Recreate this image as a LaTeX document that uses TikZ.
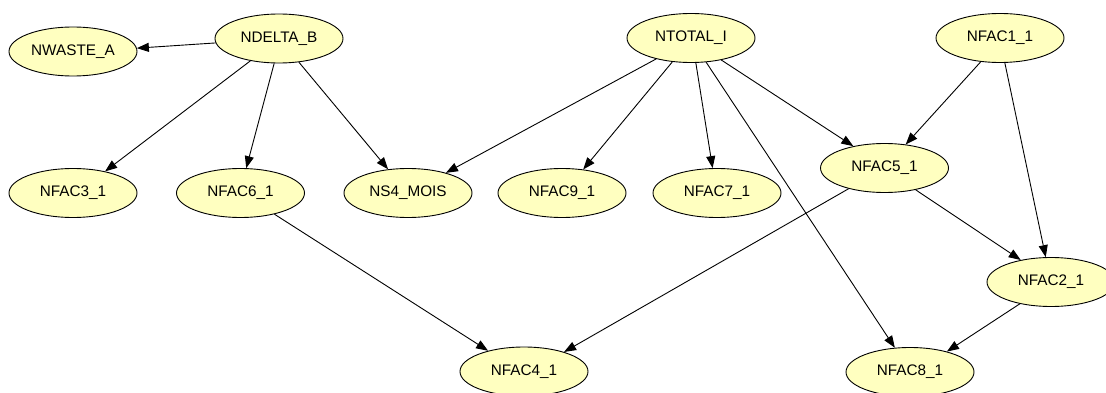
\documentclass[tikz,border=0pt]{standalone}
\usepackage{fontspec}
\setmainfont{Liberation Sans}
\usetikzlibrary{shapes.geometric,arrows.meta}
\definecolor{nodefill}{RGB}{255,255,192}
\begin{document}
\begin{tikzpicture}[x=1pt,y=-1pt,
  var/.style={ellipse,draw=black,line width=0.9pt,fill=nodefill,
    minimum width=128pt,minimum height=49pt,inner sep=0pt,
    font=\fontsize{15.3}{18}\selectfont},
  link/.style={draw=black,line width=0.9pt,
    -{Triangle[length=12pt,width=9pt]}}]
\useasboundingbox (0,0) rectangle (1106,393);

% top row
\node[var] (nwaste)  at (73,51.5)  {NWASTE\_A};
\node[var] (ndelta)  at (279,38.5) {NDELTA\_B};
\node[var] (ntotal)  at (691,38)   {NTOTAL\_I};
\node[var] (nfac1)   at (1000,38)  {NFAC1\_1};

% middle row
\node[var] (nfac3)   at (73,193)   {NFAC3\_1};
\node[var] (nfac6)   at (240.5,193){NFAC6\_1};
\node[var] (ns4)     at (408,193)  {NS4\_MOIS};
\node[var] (nfac9)   at (562,193)  {NFAC9\_1};
\node[var] (nfac7)   at (717,193)  {NFAC7\_1};
\node[var] (nfac5)   at (884.5,168){NFAC5\_1};
\node[var] (nfac2)   at (1051,282) {NFAC2\_1};

% bottom row
\node[var] (nfac4)   at (524,371.5){NFAC4\_1};
\node[var] (nfac8)   at (910,372)  {NFAC8\_1};

% dependencies
\draw[link] (ndelta.184)   -- (nwaste.3);
\draw[link] (ndelta.218)   -- (nfac3.34.5);
\draw[link] (ndelta.259)   -- (nfac6.77);
\draw[link] (ndelta.310)   -- (ns4.130.6);
\draw[link] (ntotal.211)   -- (ns4.28.8);
\draw[link] (ntotal.232.8) -- (nfac9.48.3);
\draw[link] (ntotal.281)   -- (nfac7.100);
\draw[link] (ntotal.302.6) -- (nfac8.122);
\draw[link] (ntotal.324.3) -- (nfac5.145);
\draw[link] (nfac1.231)    -- (nfac5.48);
\draw[link] (nfac1.281)    -- (nfac2.102);
\draw[link] (nfac5.325)    -- (nfac2.144.6);
\draw[link] (nfac5.210)    -- (nfac4.26);
\draw[link] (nfac6.328.7)  -- (nfac4.150);
\draw[link] (nfac2.215)    -- (nfac8.29.4);
\end{tikzpicture}
\end{document}
